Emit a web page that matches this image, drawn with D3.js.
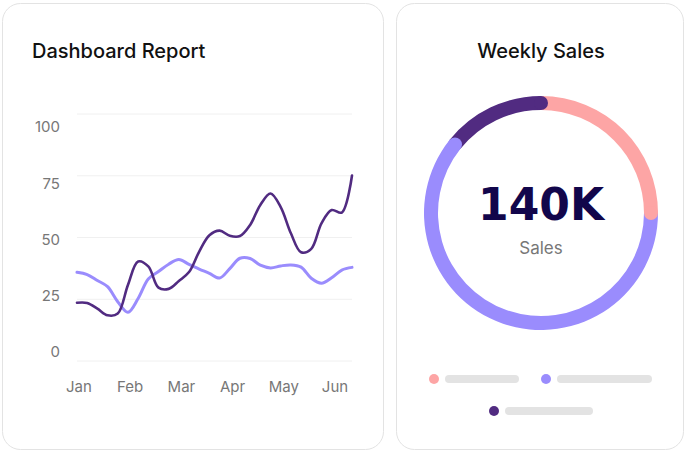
<!DOCTYPE html>
<html lang="en">
<head>
<meta charset="utf-8">
<title>Dashboard Report</title>
<style>
    body {
        margin: 0;
        background: #fff;
    }

    .card {
        fill: #fff;
        stroke: #e3e3e3;
        stroke-width: 1;
    }

    .title {
        font-family: Inter, "Noto Sans", sans-serif;
        font-size: 20px;
        font-weight: 500;
        fill: #111;
    }

    .axis-label {
        font-family: Inter, "Noto Sans", sans-serif;
        font-size: 15px;
        fill: #777;
    }

    .grid line {
        stroke: #f0f0f0;
        stroke-width: 1;
    }
</style>
</head>
<body>
<svg id="chart" width="686" height="452"></svg>

<script src="https://cdn.jsdelivr.net/npm/d3@7"></script>
<script>
    // line chart data (~weekly samples Jan -> mid Jun)
    var months = ["Jan", "Feb", "Mar", "Apr", "May", "Jun"];
    var yTicks = [0, 25, 50, 75, 100];
    var seriesDark = [23.6, 23.5, 21.2, 18.5, 19.2, 30.8, 40.3, 38.3, 29.7, 29.2, 32.4, 36.0, 44.3, 50.9,
        52.8, 50.7, 50.6, 55.1, 63.2, 67.8, 62.3, 51.7, 44.0, 45.4, 55.7, 61.1, 60.1, 75.1];
    var seriesLight = [35.9, 35.0, 32.6, 30.1, 24.0, 19.7, 25.3, 33.2, 36.2, 39.2, 41.1, 39.1, 37.2, 35.5,
        33.6, 37.4, 41.6, 41.5, 38.8, 37.7, 38.5, 38.9, 38.0, 33.5, 31.5, 33.7, 36.8, 37.9];

    // donut data
    var salesValues = [35, 85, 20];
    var salesColors = ["#fda5a5", "#9a8cfd", "#512b81"];
    var salesTotal = "140K";
    var salesCaption = "Sales";

    var svg = d3.select("#chart");

    // cards
    svg.append("rect").attr("class", "card")
        .attr("x", 2.5).attr("y", 3.5).attr("width", 381).attr("height", 446).attr("rx", 18);
    svg.append("rect").attr("class", "card")
        .attr("x", 396.5).attr("y", 3.5).attr("width", 287).attr("height", 446).attr("rx", 18);

    svg.append("text").attr("class", "title")
        .attr("x", 32).attr("y", 58).text("Dashboard Report");
    svg.append("text").attr("class", "title")
        .attr("x", 541).attr("y", 58).attr("text-anchor", "middle").text("Weekly Sales");

    /**
     * Line chart
     */
    var x = d3.scaleLinear().domain([0, seriesDark.length - 1]).range([77, 352]);
    var y = d3.scaleLinear().domain([0, 100]).range([361, 114]);
    // the tick labels sit on a slightly tighter band than the grid lines
    var yLabel = d3.scaleLinear().domain([0, 100]).range([352, 127]);
    var xLabel = d3.scalePoint().domain(months).range([79, 335]);

    var grid = svg.append("g").attr("class", "grid");
    grid.selectAll("line").data(yTicks).enter().append("line")
        .attr("x1", x.range()[0]).attr("x2", x.range()[1])
        .attr("y1", function (d) { return y(d); })
        .attr("y2", function (d) { return y(d); });

    svg.append("g").selectAll("text").data(yTicks).enter().append("text")
        .attr("class", "axis-label")
        .attr("x", 60)
        .attr("y", function (d) { return yLabel(d); })
        .attr("dy", "0.36em")
        .attr("text-anchor", "end")
        .text(function (d) { return d; });

    svg.append("g").selectAll("text").data(months).enter().append("text")
        .attr("class", "axis-label")
        .attr("x", function (d) { return xLabel(d); })
        .attr("y", 392)
        .attr("text-anchor", "middle")
        .text(function (d) { return d; });

    var line = d3.line()
        .x(function (d, i) { return x(i); })
        .y(function (d) { return y(d); })
        .curve(d3.curveCatmullRom.alpha(0.5));

    svg.append("path").datum(seriesLight)
        .attr("d", line)
        .attr("fill", "none")
        .attr("stroke", "#9a8cfd")
        .attr("stroke-width", 3)
        .attr("stroke-linecap", "round");

    svg.append("path").datum(seriesDark)
        .attr("d", line)
        .attr("fill", "none")
        .attr("stroke", "#512b81")
        .attr("stroke-width", 2.6)
        .attr("stroke-linecap", "round");

    /**
     * Donut
     */
    var cx = 541, cy = 213, rMid = 110, thick = 14;
    var pie = d3.pie().sort(null);
    var arcs = pie(salesValues);
    var arc = d3.arc().innerRadius(rMid - thick / 2).outerRadius(rMid + thick / 2);

    var donut = svg.append("g").attr("transform", "translate(" + cx + "," + cy + ")");
    donut.selectAll("path").data(arcs).enter().append("path")
        .attr("d", arc)
        .attr("fill", function (d, i) { return salesColors[i]; });

    // round end caps, each one laid over the start of the next segment
    donut.selectAll("circle").data(arcs).enter().append("circle")
        .attr("cx", function (d) { return rMid * Math.sin(d.endAngle); })
        .attr("cy", function (d) { return -rMid * Math.cos(d.endAngle); })
        .attr("r", thick / 2)
        .attr("fill", function (d, i) { return salesColors[i]; });

    donut.append("text")
        .attr("y", 7)
        .attr("text-anchor", "middle")
        .style("font-family", "'DejaVu Sans', sans-serif")
        .style("font-weight", "bold")
        .style("font-size", "44px")
        .style("fill", "#12064b")
        .text(salesTotal);

    donut.append("text")
        .attr("y", 41)
        .attr("text-anchor", "middle")
        .style("font-family", "Inter, 'Noto Sans', sans-serif")
        .style("font-size", "17px")
        .style("fill", "#777")
        .text(salesCaption);

    // legend (placeholder bars, no text in the original)
    var legendLayout = [
        {dx: 434, dy: 379, w: 74},
        {dx: 546, dy: 379, w: 95},
        {dx: 494, dy: 411, w: 88}
    ];
    var legend = svg.append("g").selectAll("g").data(legendLayout).enter().append("g")
        .attr("transform", function (d) { return "translate(" + d.dx + "," + d.dy + ")"; });
    legend.append("circle").attr("r", 5)
        .attr("fill", function (d, i) { return salesColors[i]; });
    legend.append("rect")
        .attr("x", 11).attr("y", -4).attr("height", 8).attr("rx", 4)
        .attr("width", function (d) { return d.w; })
        .attr("fill", "#e3e3e3");
</script>
</body>
</html>
